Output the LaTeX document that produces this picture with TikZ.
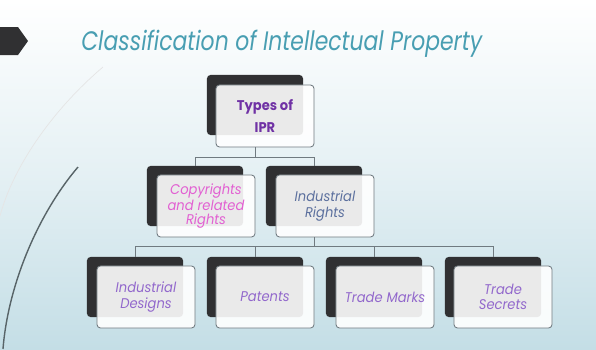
\documentclass[tikz,border=0pt]{standalone}
\usepackage{fontspec}
\setsansfont{Poppins}
\newfontfamily\titlefont[FakeStretch=0.82]{Poppins}
\newfontfamily\boxfont[FakeStretch=0.93]{Poppins}
\usetikzlibrary{positioning,calc}
\definecolor{titleteal}{RGB}{72,158,178}
\definecolor{bgblue}{RGB}{196,222,230}
\definecolor{boxdark}{RGB}{48,48,50}
\definecolor{boxline}{RGB}{112,122,128}
\definecolor{iprpurple}{RGB}{112,50,165}
\definecolor{copypink}{RGB}{226,96,210}
\definecolor{indslate}{RGB}{92,112,158}
\definecolor{leafpurple}{RGB}{146,104,204}

\begin{document}
\begin{tikzpicture}[x=0.025cm,y=-0.025cm,every node/.style={font=\boxfont\itshape\fontsize{10}{10.8}\selectfont}]
\tikzset{
  backbox/.style={fill=boxdark,rounded corners=2.5pt,minimum width=2.4cm,minimum height=1.5cm,inner sep=0pt},
  frontbox/.style={draw=boxline,line width=0.6pt,fill=white,fill opacity=0.9,text opacity=1,rounded corners=2.5pt,minimum width=2.45cm,minimum height=1.55cm,inner sep=1pt,align=center},
  link/.style={draw=boxline,line width=0.6pt}
}
\useasboundingbox (0,0) rectangle (596,349);
% background
\shade[top color=white,bottom color=bgblue,middle color=white!55!bgblue] (0,0) rectangle (596,349);
\draw[white!80!gray,line width=0.5pt] (103,67) .. controls (50,112) and (12,170) .. (0,216);
\draw[black!55!bgblue,line width=1pt] (78,167) .. controls (38,214) and (8,285) .. (3,349);
% title
\fill[boxdark] (0,27) -- (18,27) -- (28,41) -- (18,55) -- (0,55) -- cycle;
\node[anchor=base west,inner sep=0pt,text=titleteal,font=\titlefont\itshape\fontsize{19}{23}\selectfont] (title) at (81,50) {Classification of Intellectual Property};
% level 1
\node[backbox] (ipr-bk) at (255,105) {};
\node[frontbox,text=iprpurple,font=\boxfont\bfseries\fontsize{10}{15.6}\selectfont] (ipr) at (265,116) {Types of\\IPR};
% level 2
\node[backbox] (copy-bk) at (195,196) {};
\node[frontbox,text=copypink,font=\boxfont\itshape\fontsize{10}{9.6}\selectfont] (copy) at (206,206) {Copyrights\\and related\\Rights};
\node[backbox] (ind-bk) at (314,196) {};
\node[frontbox,text=indslate,font=\boxfont\itshape\fontsize{10}{11.4}\selectfont] (ind) at (325,206) {Industrial\\Rights};
% level 3
\node[backbox] (des-bk) at (135,287) {};
\node[frontbox,text=leafpurple] (des) at (146,297) {Industrial\\Designs};
\node[backbox] (pat-bk) at (255,287) {};
\node[frontbox,text=leafpurple] (pat) at (265,297) {Patents};
\node[backbox] (tm-bk) at (374,287) {};
\node[frontbox,text=leafpurple] (tm) at (385,297) {Trade Marks};
\node[backbox] (ts-bk) at (493,287) {};
\node[frontbox,text=leafpurple] (ts) at (503,297) {Trade\\Secrets};
% connectors
\draw[link] (ipr-bk.south |- ipr.south) -- ++(0,10) -| (copy-bk.north);
\draw[link] (ipr-bk.south |- ipr.south) -- ++(0,10) -| (ind-bk.north);
\draw[link] (ind-bk.south |- ind.south) -- ++(0,9) -| (des-bk.north);
\draw[link] (ind-bk.south |- ind.south) -- ++(0,9) -| (pat-bk.north);
\draw[link] (ind-bk.south |- ind.south) -- ++(0,9) -| (tm-bk.north);
\draw[link] (ind-bk.south |- ind.south) -- ++(0,9) -| (ts-bk.north);
\end{tikzpicture}
\end{document}
